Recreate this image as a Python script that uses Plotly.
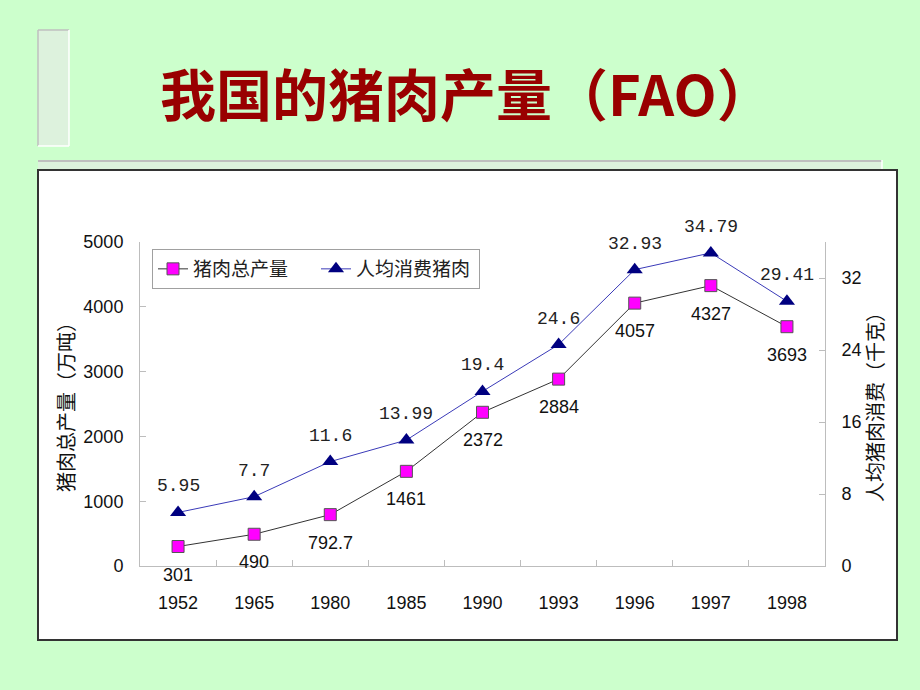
import plotly.graph_objects as go

# ---- data ----
years = ["1952", "1965", "1980", "1985", "1990", "1993", "1996", "1997", "1998"]
total_output = [301, 490, 792.7, 1461, 2372, 2884, 4057, 4327, 3693]          # 万吨
per_capita = [5.95, 7.7, 11.6, 13.99, 19.4, 24.6, 32.93, 34.79, 29.41]        # 千克
left_ticks = [0, 1000, 2000, 3000, 4000, 5000]
right_ticks = [0, 8, 16, 24, 32]

W, H = 920, 690
PL, PR, PT, PB = 140, 825, 242, 566   # plot area in px


def px_x(x):
    return (x - PL) / (PR - PL)


def px_y(y):
    return (PB - y) / (PB - PT)


fig = go.Figure()

fig.add_trace(go.Scatter(
    x=years, y=total_output, name="猪肉总产量",
    mode="lines+markers",
    line=dict(color="#333333", width=1),
    marker=dict(symbol="square", size=12, color="#ff00ff",
                line=dict(color="#555555", width=1)),
    cliponaxis=False,
))
fig.add_trace(go.Scatter(
    x=years, y=per_capita, name="人均消费猪肉", yaxis="y2",
    mode="lines+markers",
    line=dict(color="#3a3ab8", width=1),
    marker=dict(symbol="triangle-up", size=14, color="#000080",
                line=dict(color="#000080", width=0)),
    cliponaxis=False,
))

shapes = []


def rect(x0, y0, x1, y1, fill, line_color, lw):
    shapes.append(dict(type="rect", xref="paper", yref="paper", layer="below",
                       x0=px_x(x0), x1=px_x(x1), y0=px_y(y1), y1=px_y(y0),
                       fillcolor=fill, line=dict(color=line_color, width=lw)))


def seg(x0, y0, x1, y1, color, lw):
    shapes.append(dict(type="line", xref="paper", yref="paper", layer="below",
                       x0=px_x(x0), x1=px_x(x1), y0=px_y(y0), y1=px_y(y1),
                       line=dict(color=color, width=lw)))


# decorative slide elements
rect(38, 30, 69, 146, "#ddf2dd", "rgba(0,0,0,0)", 0)
seg(38, 30, 38, 146, "#bfbfbf", 1.5)
seg(38, 30, 69, 30, "#bfbfbf", 1.5)
seg(69, 30, 69, 146, "#ffffff", 1.5)
seg(38, 146, 69, 146, "#ffffff", 1.5)
rect(38, 160, 882, 169, "#ddf2dd", "rgba(0,0,0,0)", 0)
seg(38, 161, 882, 161, "#bfbfbf", 2)
seg(882, 160, 882, 169, "#ffffff", 1.5)
# white chart box
rect(38, 170, 897, 640, "#ffffff", "#333333", 2)

annotations = [
    dict(text="<b>我国的猪肉产量（FAO）</b>", xref="paper", yref="paper",
         x=px_x(466), y=px_y(92), xanchor="center", yanchor="middle", showarrow=False,
         font=dict(family="Noto Sans CJK SC", size=56, color="#990000")),
    dict(text="猪肉总产量（万吨）", xref="paper", yref="paper", textangle=-90,
         x=px_x(65), y=px_y(402), xanchor="center", yanchor="middle", showarrow=False,
         font=dict(family="Noto Sans CJK SC", size=20, color="#111111")),
    dict(text="人均猪肉消费（千克）", xref="paper", yref="paper", textangle=-90,
         x=px_x(874), y=px_y(402), xanchor="center", yanchor="middle", showarrow=False,
         font=dict(family="Noto Sans CJK SC", size=20, color="#111111")),
]

# data labels, placed through the axes (category index positions)
for i, v in enumerate(total_output):
    annotations.append(dict(x=i, y=v, xref="x", yref="y", text=str(v), showarrow=False,
                            yshift=-28, xanchor="center", yanchor="middle",
                            font=dict(family="Liberation Sans, Arial", size=18, color="#111111")))
for i, v in enumerate(per_capita):
    annotations.append(dict(x=i, y=v, xref="x", yref="y2", text=str(v), showarrow=False,
                            yshift=26, xanchor="center", yanchor="middle",
                            font=dict(family="Liberation Mono, DejaVu Sans Mono", size=18,
                                      color="#222222")))

axis_common = dict(showgrid=False, zeroline=False, showline=True, linecolor="#bdbdbd",
                   linewidth=1, ticks="inside", ticklen=6, tickcolor="#bdbdbd")

fig.update_layout(
    width=W, height=H,
    margin=dict(l=PL, r=W - PR, t=PT, b=H - PB),
    paper_bgcolor="#ccffcc", plot_bgcolor="#ffffff",
    shapes=shapes, annotations=annotations,
    showlegend=True,
    legend=dict(orientation="h", x=px_x(152), y=px_y(249), xanchor="left", yanchor="top",
                bgcolor="#ffffff", bordercolor="#a0a0a0", borderwidth=1,
                entrywidth=118, entrywidthmode="pixels",
                font=dict(family="Noto Sans CJK SC", size=19, color="#222222")),
    xaxis=dict(**axis_common, type="category", range=[-0.5, len(years) - 0.5],
               tickson="boundaries", ticklabelstandoff=20,
               tickfont=dict(family="Liberation Sans, Arial", size=18, color="#111111")),
    yaxis=dict(**axis_common, range=[0, 5000], tickvals=left_ticks, ticklabelstandoff=12,
               tickfont=dict(family="Liberation Sans, Arial", size=18, color="#111111")),
    yaxis2=dict(**axis_common, range=[0, 36], tickvals=right_ticks, overlaying="y",
                side="right", ticklabelstandoff=12,
                tickfont=dict(family="Liberation Sans, Arial", size=18, color="#111111")),
)

fig.write_html("out.html")
